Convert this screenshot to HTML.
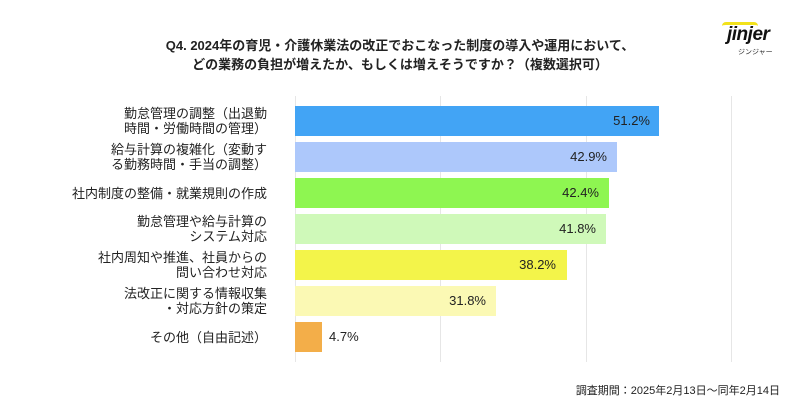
<!DOCTYPE html>
<html><head><meta charset="utf-8"><style>
body{margin:0;width:800px;height:420px;background:#fff;position:relative;overflow:hidden;font-family:"Liberation Sans","Noto Sans CJK JP",sans-serif;color:#222}
.t{position:absolute;left:0;width:800px;text-align:center;font-size:13px;font-weight:bold;line-height:20px}
.g{position:absolute;top:96px;height:266px;width:1px;background:#e6e6e6}
.b{position:absolute;left:295px;height:30px}
.v{position:absolute;font-size:13px;line-height:30px;text-align:right}
.l{position:absolute;right:533px;font-size:13px;line-height:15px;text-align:right;white-space:nowrap}
</style></head><body>
<div class="t" style="top:36px">Q4. 2024年の育児・介護休業法の改正でおこなった制度の導入や運用において、</div>
<div class="t" style="top:55px">どの業務の負担が増えたか、もしくは増えそうですか？（複数選択可）</div>
<div style="position:absolute;left:722px;top:22px;width:36px;height:6px;border-top:3px solid #f2e21a;border-radius:4px 4px 0 0"></div>
<div style="position:absolute;left:727px;top:24px;font-size:19px;font-weight:bold;font-style:italic;color:#111;letter-spacing:-0.5px">jinjer</div>
<div style="position:absolute;left:738px;top:47px;font-size:7px;color:#333">ジンジャー</div>
<div class="g" style="left:295px"></div><div class="g" style="left:440px"></div><div class="g" style="left:586px"></div><div class="g" style="left:731px"></div>

<div class="b" style="top:106px;width:364px;background:#42a4f5"></div><div class="v" style="top:106px;left:560px;width:90px">51.2%</div>
<div class="b" style="top:142px;width:322px;background:#adc8fb"></div><div class="v" style="top:142px;left:517px;width:90px">42.9%</div>
<div class="b" style="top:178px;width:314px;background:#8ef651"></div><div class="v" style="top:178px;left:509px;width:90px">42.4%</div>
<div class="b" style="top:214px;width:311px;background:#cff9b9"></div><div class="v" style="top:214px;left:506px;width:90px">41.8%</div>
<div class="b" style="top:250px;width:272px;background:#f3f44a"></div><div class="v" style="top:250px;left:466px;width:90px">38.2%</div>
<div class="b" style="top:286px;width:201px;background:#fbf9b4"></div><div class="v" style="top:286px;left:396px;width:90px">31.8%</div>
<div class="b" style="top:322px;width:27px;background:#f3ae49"></div><div class="v" style="top:322px;left:329px;text-align:left">4.7%</div>

<div class="l" style="top:106px">勤怠管理の調整（出退勤<br>時間・労働時間の管理）</div>
<div class="l" style="top:142px">給与計算の複雑化（変動す<br>る勤務時間・手当の調整）</div>
<div class="l" style="top:186px">社内制度の整備・就業規則の作成</div>
<div class="l" style="top:214px">勤怠管理や給与計算の<br>システム対応</div>
<div class="l" style="top:250px">社内周知や推進、社員からの<br>問い合わせ対応</div>
<div class="l" style="top:286px">法改正に関する情報収集<br>・対応方針の策定</div>
<div class="l" style="top:330px">その他（自由記述）</div>
<div style="position:absolute;right:20px;top:382px;font-size:11px">調査期間：2025年2月13日〜同年2月14日</div>
</body></html>
